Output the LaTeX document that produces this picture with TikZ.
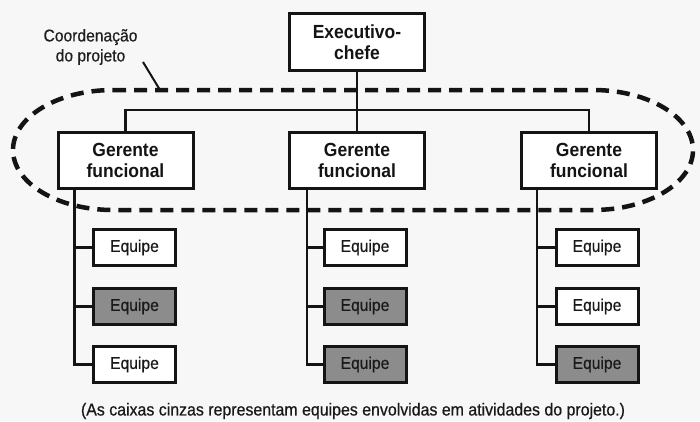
\documentclass[tikz,border=0pt]{standalone}
\usepackage{fontspec}
\setmainfont{Liberation Sans}
\newfontfamily\cond[FakeStretch=0.92]{Liberation Sans}
\newfontfamily\condm[FakeStretch=0.92,FakeBold=0.6]{Liberation Sans}
\begin{document}
\begin{tikzpicture}[x=1pt,y=-1pt,
  mgr/.style={draw=black!92,line width=3pt,fill=white,minimum width=135pt,minimum height=56pt,inner sep=0pt,align=center,
    font=\cond\bfseries\fontsize{19}{20.5}\selectfont,text=black!92},
  team/.style={draw=black!92,line width=3pt,minimum width=82pt,minimum height=36pt,inner sep=0pt,
    font=\condm\fontsize{17}{18}\selectfont,text=black!90},
  wteam/.style={team,fill=white},
  gteam/.style={team,fill=black!45},
  conn/.style={draw=black!92,line width=2.7pt},
  coord/.style={draw=black!92,line width=4.5pt,dash pattern=on 13pt off 8pt},
  lbl/.style={font=\condm\fontsize{17}{20}\selectfont,text=black!88,align=center,inner sep=0pt}
]
\path[use as bounding box,fill=black!3] (0,0) rectangle (700,421);

% Dashed coordination outline
\draw[coord] (113,90) -- (593,90)
  arc[start angle=90,end angle=-90,x radius=100pt,y radius=60pt]
  -- (113,210)
  arc[start angle=270,end angle=90,x radius=100pt,y radius=60pt] -- cycle;

% Nodes
\node[mgr,minimum height=57pt] (ex) at (357,42) {Executivo-\\chefe};
\node[mgr] (gL) at (125.5,160.5) {Gerente\\funcional};
\node[mgr] (gM) at (357,160.5) {Gerente\\funcional};
\node[mgr] (gR) at (589,160.5) {Gerente\\funcional};

\node[wteam] (eL1) at (134.5,247.5) {Equipe};
\node[gteam] (eL2) at (134.5,306.5) {Equipe};
\node[wteam] (eL3) at (134.5,364.5) {Equipe};
\node[wteam] (eM1) at (365,247.5) {Equipe};
\node[gteam] (eM2) at (365,306.5) {Equipe};
\node[gteam] (eM3) at (365,364.5) {Equipe};
\node[wteam] (eR1) at (597,247.5) {Equipe};
\node[wteam] (eR2) at (597,306.5) {Equipe};
\node[gteam] (eR3) at (597,364.5) {Equipe};

% Hierarchy connectors
\coordinate (bar) at (357,110);
\draw[conn] (ex.south) -- (gM.north);
\draw[conn] (gL.north) |- (bar) -| (gR.north);

\coordinate (tL) at ([xshift=18pt]gL.south west);
\coordinate (tM) at ([xshift=19pt]gM.south west);
\coordinate (tR) at ([xshift=17pt]gR.south west);
\foreach \t/\g in {tL/L,tM/M,tR/R}{
  \draw[conn] (\t) |- (e\g3.west);
  \draw[conn] (e\g1.west) -- (e\g1.west -| \t);
  \draw[conn] (e\g2.west) -- (e\g2.west -| \t);
}

% Label with pointer
\node[lbl] (cl) at (90.5,47) {Coordenação\\do projeto};
\coordinate (pA) at (143,62);
\coordinate (pB) at (160,90);
\draw[draw=black!92,line width=2pt] (pA) -- (pB);

% Caption
\node[font=\condm\fontsize{17.3}{18}\selectfont,text=black!90,inner sep=0pt] (cap) at (353,411)
  {(As caixas cinzas representam equipes envolvidas em atividades do projeto.)};
\end{tikzpicture}
\end{document}
